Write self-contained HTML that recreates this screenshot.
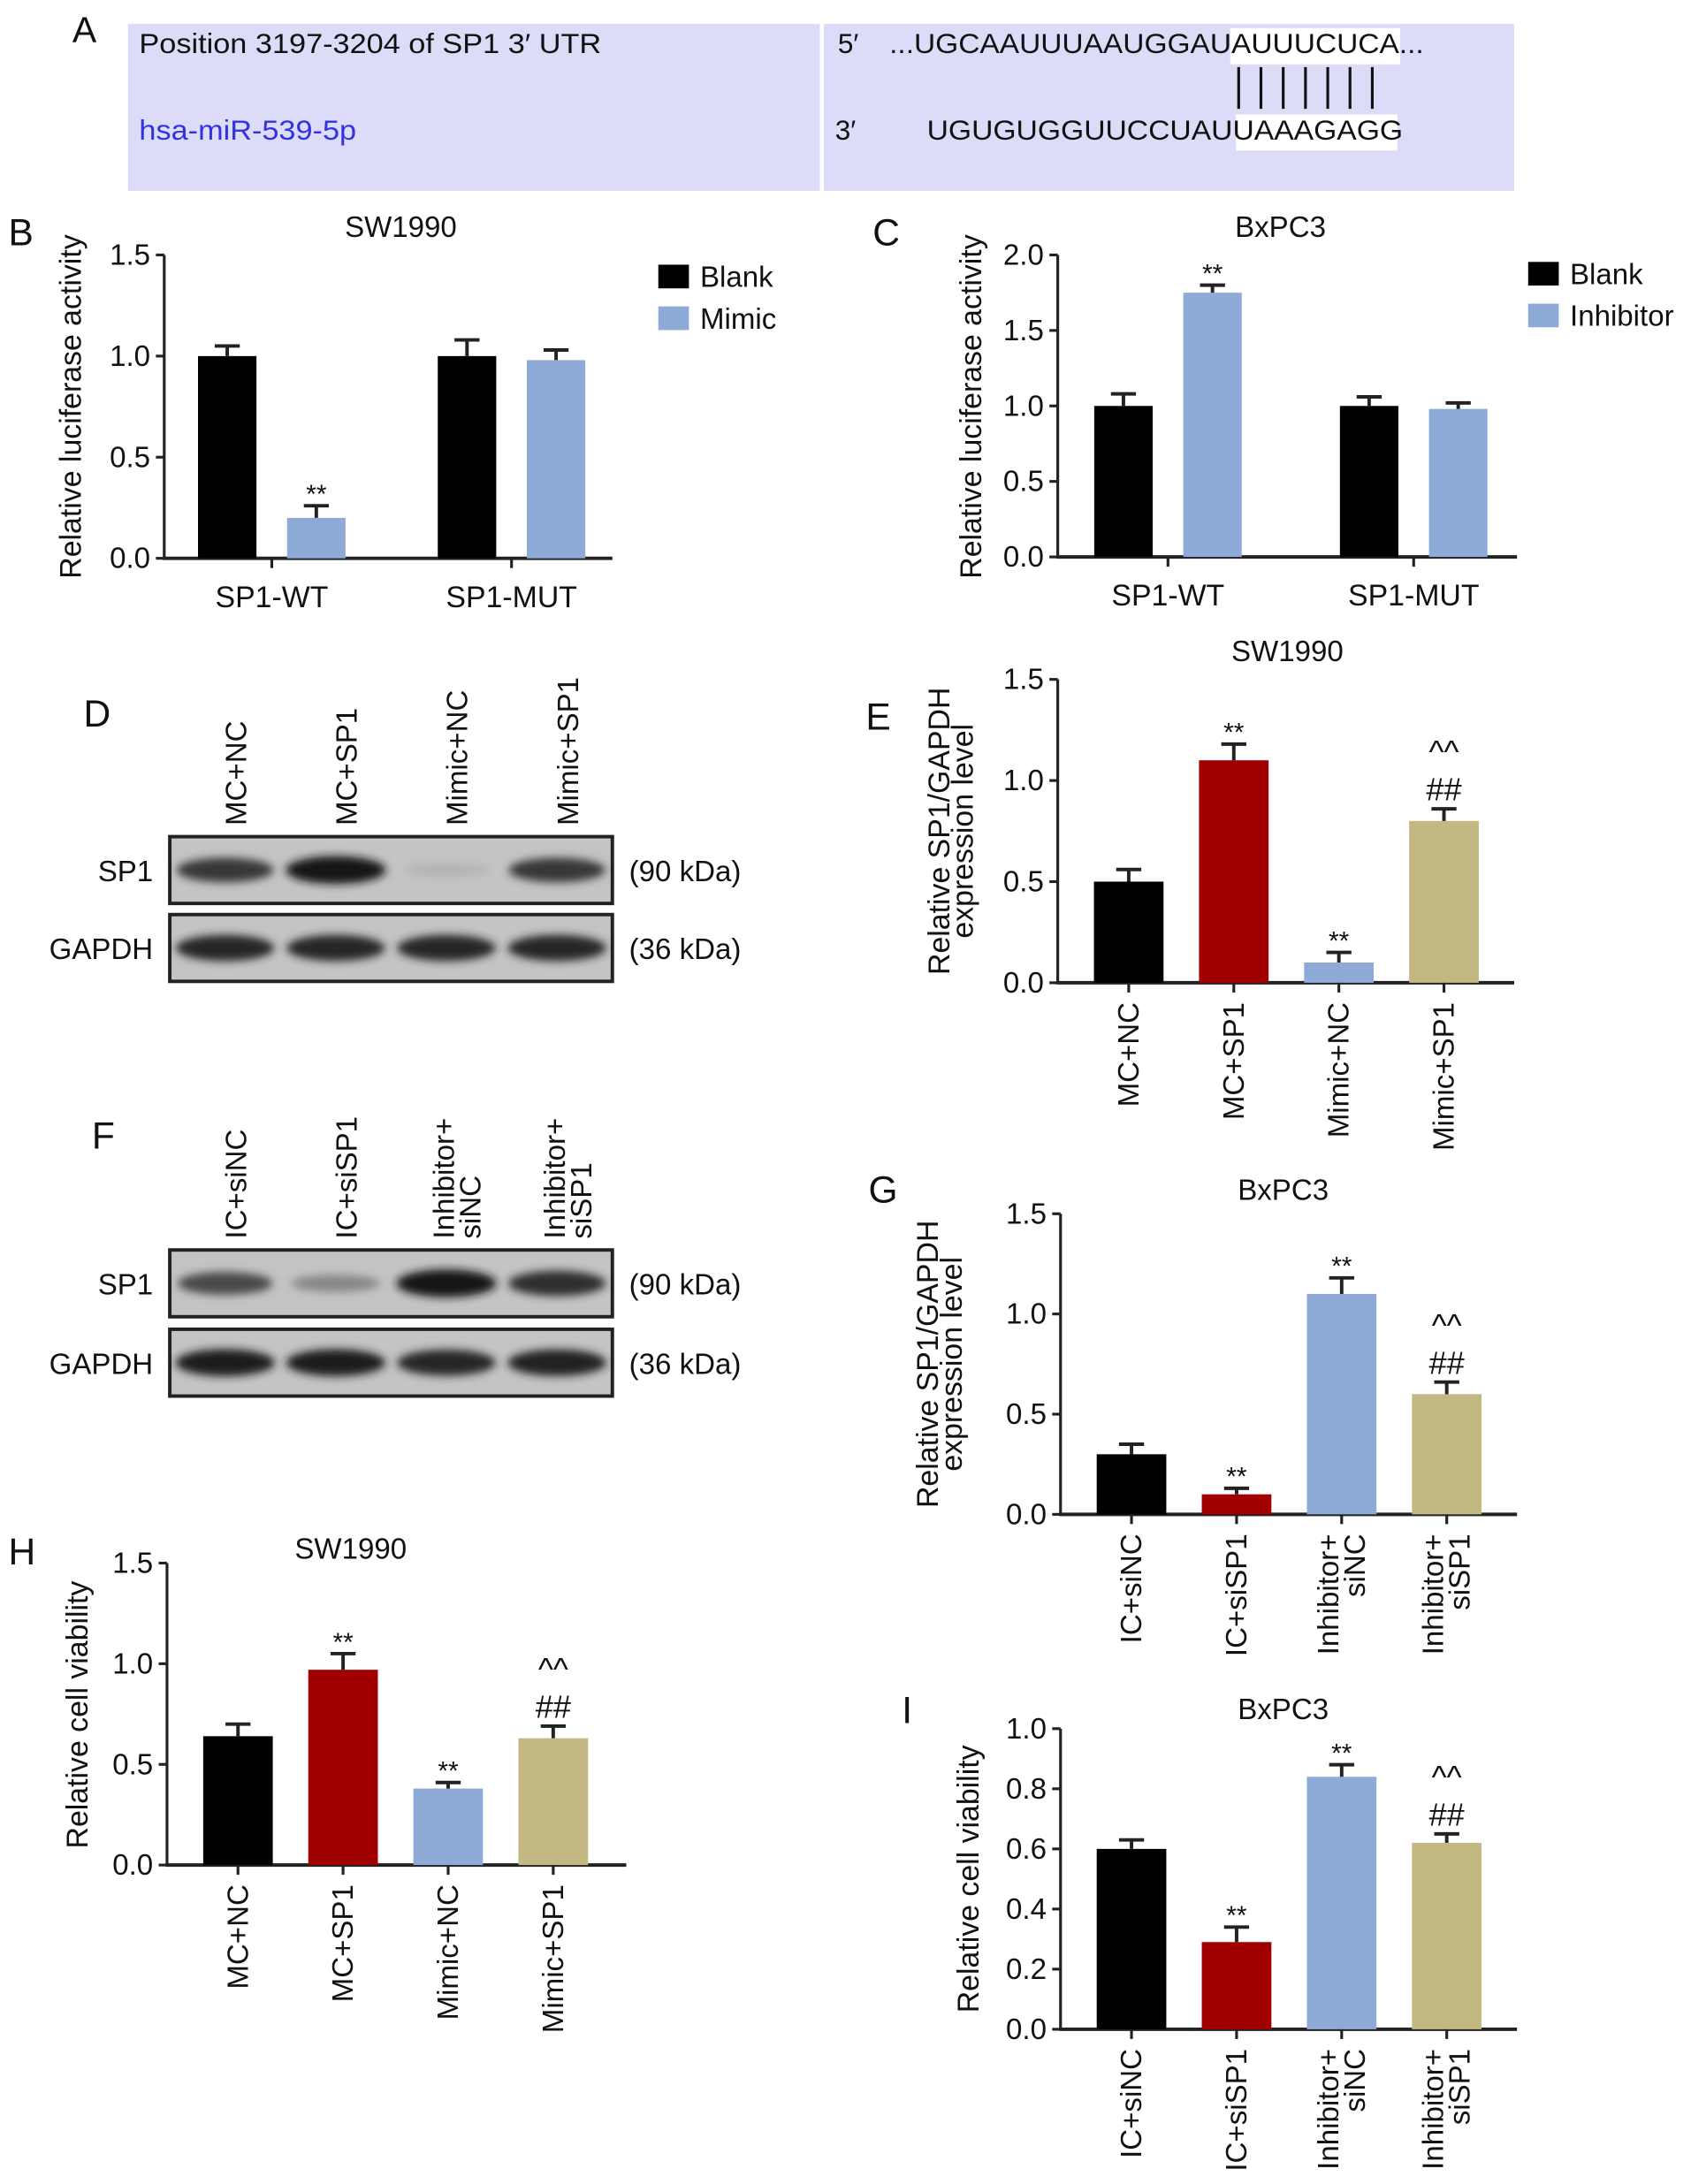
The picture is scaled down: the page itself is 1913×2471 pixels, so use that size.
<!DOCTYPE html>
<html><head><meta charset="utf-8">
<style>
html,body{margin:0;padding:0;background:#fff;}
svg{display:block;}
text{font-family:"Liberation Sans",sans-serif;fill:#111;}
.n{font-family:"Liberation Sans Narrow","Liberation Sans",sans-serif;}
</style></head>
<body>
<svg id="fig" width="1913" height="2471" viewBox="0 0 1215 1569" xmlns="http://www.w3.org/2000/svg">
<defs>
<filter id="blur" x="-20%" y="-50%" width="140%" height="200%"><feGaussianBlur stdDeviation="3"/></filter>
</defs>
<g>
<text x="52" y="30" font-size="26" class="n">A</text>
<rect x="92" y="17" width="996" height="120" fill="#dcdcf8"/>
<rect x="589" y="17" width="3" height="120" fill="#fff"/>
<rect x="884" y="20" width="122" height="26" fill="#fff"/>
<rect x="888" y="82" width="116" height="26" fill="#fff"/>
<text x="100" y="38" font-size="20" textLength="332" lengthAdjust="spacingAndGlyphs">Position 3197-3204 of SP1 3′ UTR</text>
<text x="100" y="100" font-size="20" textLength="156" lengthAdjust="spacingAndGlyphs" style="fill:#3333dd">hsa-miR-539-5p</text>
<text x="602" y="38" font-size="20">5′</text>
<text x="639" y="38" font-size="20" textLength="384" lengthAdjust="spacingAndGlyphs">...UGCAAUUUAAUGGAUAUUUCUCA...</text>
<text x="600" y="100" font-size="20">3′</text>
<text x="666" y="100" font-size="20" textLength="342" lengthAdjust="spacingAndGlyphs">UGUGUGGUUCCUAUUAAAGAGG</text>
<g stroke="#111" stroke-width="2">
<line x1="890" y1="48" x2="890" y2="78"/><line x1="906" y1="48" x2="906" y2="78"/><line x1="922" y1="48" x2="922" y2="78"/><line x1="938" y1="48" x2="938" y2="78"/><line x1="954" y1="48" x2="954" y2="78"/><line x1="970" y1="48" x2="970" y2="78"/><line x1="986" y1="48" x2="986" y2="78"/>
</g>
</g>
<g id="charts"></g>
<g id="blots"></g>
</svg>
<script>
// ---- data arrays ----
const bCategories = ["SP1-WT","SP1-MUT"];
const bBlank = [1.0, 1.0];
const bBlankErr = [0.05, 0.08];
const bMimic = [0.2, 0.98];
const bMimicErr = [0.06, 0.05];
const bTicks = [0, 0.5, 1.0, 1.5];
const bMarks = [["",""],["**",""]];

const cCategories = ["SP1-WT","SP1-MUT"];
const cBlank = [1.0, 1.0];
const cBlankErr = [0.08, 0.06];
const cInhibitor = [1.75, 0.98];
const cInhibitorErr = [0.05, 0.04];
const cTicks = [0, 0.5, 1.0, 1.5, 2.0];
const cMarks = [["",""],["**",""]];

const eCategories = [["MC+NC"],["MC+SP1"],["Mimic+NC"],["Mimic+SP1"]];
const eValues = [0.5, 1.1, 0.1, 0.8];
const eErrors = [0.06, 0.08, 0.05, 0.06];
const eTicks = [0, 0.5, 1.0, 1.5];
const eMarks = [[],["**"],["**"],["##","^^"]];

const gCategories = [["IC+siNC"],["IC+siSP1"],["Inhibitor+","siNC"],["Inhibitor+","siSP1"]];
const gValues = [0.3, 0.1, 1.1, 0.6];
const gErrors = [0.05, 0.03, 0.08, 0.06];
const gTicks = [0, 0.5, 1.0, 1.5];
const gMarks = [[],["**"],["**"],["##","^^"]];

const hCategories = [["MC+NC"],["MC+SP1"],["Mimic+NC"],["Mimic+SP1"]];
const hValues = [0.64, 0.97, 0.38, 0.63];
const hErrors = [0.06, 0.08, 0.03, 0.06];
const hTicks = [0, 0.5, 1.0, 1.5];
const hMarks = [[],["**"],["**"],["##","^^"]];

const iCategories = [["IC+siNC"],["IC+siSP1"],["Inhibitor+","siNC"],["Inhibitor+","siSP1"]];
const iValues = [0.6, 0.29, 0.84, 0.62];
const iErrors = [0.03, 0.05, 0.04, 0.03];
const iTicks = [0, 0.2, 0.4, 0.6, 0.8, 1.0];
const iMarks = [[],["**"],["**"],["##","^^"]];

const dLanes = ["MC+NC","MC+SP1","Mimic+NC","Mimic+SP1"];
const dSP1 = [0.8, 1.0, 0.1, 0.8];
const dGAPDH = [0.9, 0.9, 0.9, 0.9];
const fLanes = [["IC+siNC"],["IC+siSP1"],["Inhibitor+","siNC"],["Inhibitor+","siSP1"]];
const fSP1 = [0.7, 0.35, 1.0, 0.85];
const fGAPDH = [0.95, 0.95, 0.9, 0.92];

const COLORS4 = ["#000000","#a00000","#8eaad6","#c4b882"];
const NS = "http://www.w3.org/2000/svg";
const charts = document.getElementById('charts');
const blots = document.getElementById('blots');

function mk(tag, attrs, parent, txt){
  const e = document.createElementNS(NS, tag);
  for (const k in attrs) e.setAttribute(k, attrs[k]);
  if (txt !== undefined) e.textContent = txt;
  parent.appendChild(e);
  return e;
}

function axes(g, p, ticks, name){
  const y = v => p.y0 - (v - ticks[0]) / (ticks[ticks.length-1] - ticks[0]) * (p.y0 - p.y1);
  const ax = mk('line', {x1:p.x0, y1:p.y1, x2:p.x0, y2:p.y0+1, stroke:'#222', 'stroke-width':2}, g);
  
  
  const bx = mk('line', {x1:p.x0-1, y1:p.y0, x2:p.x2, y2:p.y0, stroke:'#222', 'stroke-width':2.5}, g);
  
  
  ticks.forEach(t => {
    const tl = mk('line', {x1:p.x0-6, y1:y(t), x2:p.x0, y2:y(t), stroke:'#222', 'stroke-width':2}, g);
    
    
    const tt = mk('text', {x:p.x0-10, y:y(t)+7, 'font-size':21, 'text-anchor':'end', class:'n'}, g, t.toFixed(1));
    
    
  });
  return y;
}

function bar(g, x, w, yv, y0, val, err, color, name){
  const top = yv(val);
  const r = mk('rect', {x:x-w/2, y:top, width:w, height:y0-top, fill:color}, g);
  
  
  const et = yv(val + err);
  const el = mk('path', {d:`M${x} ${top} V${et} M${x-9} ${et} H${x+9}`, stroke:'#222', 'stroke-width':2.5, fill:'none'}, g);
  
  
  return et;
}

function marks(g, x, et, arr, name){
  arr.forEach((m, k) => {
    const sz = m === "**" ? 19 : 23;
    const t = mk('text', {x:x, y:et - 6 - k*27 + (m==="**"?4:0), 'font-size':sz, 'text-anchor':'middle'}, g, m);
    
    
  });
}

function ylabel(g, x, cy, lines, name){
  lines.forEach((l, k) => {
    const t = mk('text', {x:0, y:0, 'font-size':21.5, 'text-anchor':'middle', transform:`translate(${x + k*17},${cy}) rotate(-90)`}, g, l);
    
    
  });
}

function title(g, x, y, s, name){
  const t = mk('text', {x:x, y:y, 'font-size':21, 'text-anchor':'middle', class:'n'}, g, s);
  
  
}
function plabel(g, x, y, s, name){
  const t = mk('text', {x:x, y:y, 'font-size':27, class:'n'}, g, s);
  
  
}

function grouped(p, cats, s1, e1, s2, e2, ticks, mks, legend, name){
  const g = mk('g', {}, charts);
  
  
  const y = axes(g, p, ticks, name);
  const span = p.x2 - p.x0;
  cats.forEach((c, i) => {
    const cx = p.x0 + span*(0.24 + 0.535*i);
    const bw = 42, off = 32;
    const et1 = bar(g, cx-off, bw, y, p.y0, s1[i], e1[i], '#000', name + '-bar-' + legend[0].toLowerCase() + '-' + i);
    marks(g, cx-off, et1, mks[0][i] ? [mks[0][i]] : [], name);
    const et2 = bar(g, cx+off, bw, y, p.y0, s2[i], e2[i], '#8eaad6', name + '-bar-' + legend[1].toLowerCase() + '-' + i);
    marks(g, cx+off, et2, mks[1][i] ? [mks[1][i]] : [], name);
    const tk = mk('line', {x1:cx, y1:p.y0, x2:cx, y2:p.y0+7, stroke:'#222', 'stroke-width':2}, g);
    
    
    const t = mk('text', {x:cx, y:p.y0+35, 'font-size':21.5, 'text-anchor':'middle', class:'n'}, g, c);
    
    
  });
  legend.forEach((l, k) => {
    const r = mk('rect', {x:p.lx, y:p.ly + k*30, width:22, height:17, fill:k ? '#8eaad6' : '#000'}, g);
    
    
    const t = mk('text', {x:p.lx+30, y:p.ly + k*30 + 16, 'font-size':21, class:'n'}, g, l);
    
    
  });
  return g;
}

function single(p, cats, vals, errs, ticks, mks, name){
  const g = mk('g', {}, charts);
  
  
  const y = axes(g, p, ticks, name);
  cats.forEach((c, i) => {
    const cx = p.x0 + 51 + 75.5*i;
    const et = bar(g, cx, 50, y, p.y0, vals[i], errs[i], COLORS4[i], name + '-bar-' + i);
    marks(g, cx, et, mks[i], name);
    const tk = mk('line', {x1:cx, y1:p.y0, x2:cx, y2:p.y0+7, stroke:'#222', 'stroke-width':2}, g);
    
    
    c.forEach((line, k) => {
      const off = (k - (c.length-1)/2) * 19;
      const t = mk('text', {x:0, y:0, 'font-size':21, 'text-anchor':'end', transform:`translate(${cx+7+off},${p.y0+14}) rotate(-90)`}, g, line);
      
      
    });
  });
  return g;
}

let g;
g = grouped({x0:118, x2:440, y0:401, y1:183, lx:473, ly:190}, bCategories, bBlank, bBlankErr, bMimic, bMimicErr, bTicks, bMarks, ["Blank","Mimic"], 'panel-b');
plabel(g, 6, 176, 'B', 'b'); title(g, 288, 170, 'SW1990', 'panel-b'); ylabel(g, 58, 292, ['Relative luciferase activity'], 'panel-b');
g = grouped({x0:760, x2:1090, y0:400, y1:183, lx:1098, ly:188}, cCategories, cBlank, cBlankErr, cInhibitor, cInhibitorErr, cTicks, cMarks, ["Blank","Inhibitor"], 'panel-c');
plabel(g, 627, 176, 'C', 'c'); title(g, 920, 170, 'BxPC3', 'panel-c'); ylabel(g, 705, 292, ['Relative luciferase activity'], 'panel-c');
g = single({x0:760, x2:1088, y0:706, y1:488}, eCategories, eValues, eErrors, eTicks, eMarks, 'panel-e');
plabel(g, 622, 524, 'E', 'e'); title(g, 925, 475, 'SW1990', 'panel-e'); ylabel(g, 682, 597, ['Relative SP1/GAPDH','expression level'], 'panel-e');
g = single({x0:762, x2:1090, y0:1088, y1:872}, gCategories, gValues, gErrors, gTicks, gMarks, 'panel-g');
plabel(g, 624, 864, 'G', 'g'); title(g, 922, 862, 'BxPC3', 'panel-g'); ylabel(g, 674, 980, ['Relative SP1/GAPDH','expression level'], 'panel-g');
g = single({x0:120, x2:450, y0:1340, y1:1123}, hCategories, hValues, hErrors, hTicks, hMarks, 'panel-h');
plabel(g, 6, 1124, 'H', 'h'); title(g, 252, 1120, 'SW1990', 'panel-h'); ylabel(g, 63, 1232, ['Relative cell viability'], 'panel-h');
g = single({x0:762, x2:1090, y0:1458, y1:1242}, iCategories, iValues, iErrors, iTicks, iMarks, 'panel-i');
plabel(g, 648, 1238, 'I', 'i'); title(g, 922, 1235, 'BxPC3', 'panel-i'); ylabel(g, 703, 1350, ['Relative cell viability'], 'panel-i');

function blot(p, lanes, sp1, gapdh, name){
  const g = mk('g', {}, blots);
  
  
  const lw = (p.x2 - p.x0) / lanes.length;
  [[p.ya, sp1, 'SP1', '(90 kDa)'], [p.yb, gapdh, 'GAPDH', '(36 kDa)']].forEach(([yy, arr, lab, kd]) => {
    const r = mk('rect', {x:p.x0, y:yy, width:p.x2-p.x0, height:48, fill:'#c4c4c4', stroke:'#222', 'stroke-width':2.5}, g);
    
    
    arr.forEach((v, i) => {
      const cx = p.x0 + lw*(i+0.5);
      const sh = Math.round(195 - v*175);
      const e = mk('ellipse', {cx:cx, cy:yy+24, rx:30+6*v, ry:4+6*v, fill:`rgb(${sh},${sh},${sh})`, filter:'url(#blur)'}, g);
      
      
    });
    const t = mk('text', {x:p.x0-12, y:yy+32, 'font-size':21, 'text-anchor':'end', class:'n'}, g, lab);
    
    
    const k = mk('text', {x:p.x2+12, y:yy+32, 'font-size':21, class:'n'}, g, kd);
    
    
  });
  lanes.forEach((c, i) => {
    const cx = p.x0 + lw*(i+0.5) + 8;
    const arr = Array.isArray(c) ? c : [c];
    arr.forEach((line, k) => {
      const off = (k - (arr.length-1)/2) * 19;
      const t = mk('text', {x:0, y:0, 'font-size':21, 'text-anchor':'start', transform:`translate(${cx+7+off},${p.ya-8}) rotate(-90)`}, g, line);
      
      
    });
  });
  return g;
}
g = blot({x0:122, x2:440, ya:601, yb:657}, dLanes, dSP1, dGAPDH, 'panel-d');
plabel(g, 60, 522, 'D', 'd');
g = blot({x0:122, x2:440, ya:898, yb:955}, fLanes, fSP1, fGAPDH, 'panel-f');
plabel(g, 66, 825, 'F', 'f');
</script>
</body></html>
